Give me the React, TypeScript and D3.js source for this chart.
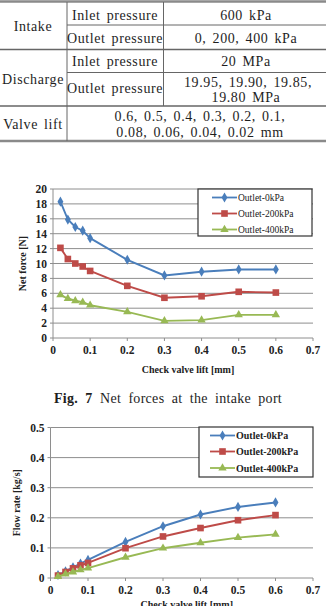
import React from "react";
import * as d3 from "d3";

// Valve-lift positions (mm) shared by both charts
const lift = [0.02, 0.04, 0.06, 0.08, 0.1, 0.2, 0.3, 0.4, 0.5, 0.6];

// Net force at the intake port [N]
const force0 = [18.3, 15.9, 14.9, 14.4, 13.4, 10.5, 8.4, 8.9, 9.2, 9.2];
const force200 = [12.1, 10.6, 10.0, 9.6, 9.0, 7.0, 5.4, 5.6, 6.2, 6.1];
const force400 = [5.8, 5.3, 5.0, 4.8, 4.4, 3.5, 2.3, 2.4, 3.1, 3.1];

// Flow rate [kg/s]
const flow0 = [0.01, 0.022, 0.035, 0.048, 0.06, 0.12, 0.172, 0.211, 0.236, 0.251];
const flow200 = [0.008, 0.02, 0.032, 0.042, 0.05, 0.099, 0.138, 0.166, 0.192, 0.209];
const flow400 = [0.005, 0.013, 0.02, 0.027, 0.033, 0.069, 0.099, 0.117, 0.134, 0.145];

const seriesNames = ["Outlet-0kPa", "Outlet-200kPa", "Outlet-400kPa"];
const seriesColors = ["#4a7ebb", "#be4b48", "#98b954"];
const seriesSymbols = [d3.symbolDiamond, d3.symbolSquare, d3.symbolTriangle];
const symbolSizes = [30, 44, 30];

const xTicks = [0, 0.1, 0.2, 0.3, 0.4, 0.5, 0.6, 0.7];
const forceTicks = [0, 2, 4, 6, 8, 10, 12, 14, 16, 18, 20];
const flowTicks = [0, 0.1, 0.2, 0.3, 0.4, 0.5];

// Table content
const tableCol1 = ["Intake", "Discharge", "Valve lift"];
const tableCol2 = ["Inlet pressure", "Outlet pressure", "Inlet pressure", "Outlet pressure"];
const tableCol3 = ["600 kPa", "0, 200, 400 kPa", "20 MPa", "19.95, 19.90, 19.85,", "19.80 MPa"];
const tableLift = ["0.6, 0.5, 0.4, 0.3, 0.2, 0.1,", "0.08, 0.06, 0.04, 0.02 mm"];

const SERIF = "'Liberation Serif', 'Times New Roman', serif";
const GRID = "#8e8e8e";

type ChartProps = {
  top: number;
  bottom: number;
  left: number;
  right: number;
  yDomain: [number, number];
  yTicks: number[];
  yFormat: (v: number) => string;
  yTitle: string;
  yTitleX: number;
  series: number[][];
  legend: { x: number; y: number; w: number; h: number; rows: number[]; lineX: [number, number] };
  legendBold: boolean;
  legendSize: number;
  xTitleY: number;
};

function Chart(p: ChartProps) {
  const x = d3.scaleLinear().domain([0, 0.7]).range([p.left, p.right]);
  const y = d3.scaleLinear().domain(p.yDomain).range([p.bottom, p.top]);
  const line = d3
    .line<number>()
    .x((_, i) => x(lift[i]))
    .y((v) => y(v));
  return (
    <g>
      {p.yTicks.map((t) => (
        <g key={t}>
          <line x1={p.left} x2={p.right} y1={y(t)} y2={y(t)} stroke={GRID} strokeWidth={1} />
          <line x1={p.left - 3} x2={p.left} y1={y(t)} y2={y(t)} stroke={GRID} strokeWidth={1} />
          <text
            x={p.left - 6}
            y={y(t) + 4}
            textAnchor="end"
            fontFamily={SERIF}
            fontWeight="bold"
            fontSize={11.5}
            fill="#222"
          >
            {p.yFormat(t)}
          </text>
        </g>
      ))}
      <line x1={p.left} x2={p.left} y1={p.top} y2={p.bottom} stroke={GRID} strokeWidth={1} />
      {xTicks.map((t) => (
        <g key={t}>
          <line x1={x(t)} x2={x(t)} y1={p.bottom} y2={p.bottom + 3} stroke={GRID} strokeWidth={1} />
          <text
            x={x(t)}
            y={p.bottom + 16}
            textAnchor="middle"
            fontFamily={SERIF}
            fontWeight="bold"
            fontSize={11.5}
            fill="#222"
          >
            {t === 0 ? "0" : t.toFixed(1)}
          </text>
        </g>
      ))}
      <text
        x={(p.left + p.right) / 2 + 5}
        y={p.xTitleY}
        textAnchor="middle"
        fontFamily={SERIF}
        fontWeight="bold"
        fontSize={10}
        fill="#222"
      >
        Check valve lift [mm]
      </text>
      <text
        transform={`translate(${p.yTitleX},${(p.top + p.bottom) / 2}) rotate(-90)`}
        textAnchor="middle"
        fontFamily={SERIF}
        fontWeight="bold"
        fontSize={10}
        fill="#222"
      >
        {p.yTitle}
      </text>
      {p.series.map((s, k) => (
        <g key={k}>
          <path d={line(s) ?? ""} fill="none" stroke={seriesColors[k]} strokeWidth={1.9} />
          {s.map((v, i) => (
            <path
              key={i}
              transform={`translate(${x(lift[i])},${y(v)})`}
              d={d3.symbol(seriesSymbols[k], symbolSizes[k])() ?? ""}
              fill={seriesColors[k]}
            />
          ))}
        </g>
      ))}
      <rect
        x={p.legend.x}
        y={p.legend.y}
        width={p.legend.w}
        height={p.legend.h}
        fill="#fff"
        stroke="#333"
        strokeWidth={1.2}
      />
      {seriesNames.map((n, k) => {
        const ly = p.legend.rows[k];
        const [lx0, lx1] = p.legend.lineX;
        return (
          <g key={n}>
            <line x1={lx0} x2={lx1} y1={ly} y2={ly} stroke={seriesColors[k]} strokeWidth={1.8} />
            <path
              transform={`translate(${(lx0 + lx1) / 2},${ly})`}
              d={d3.symbol(seriesSymbols[k], symbolSizes[k])() ?? ""}
              fill={seriesColors[k]}
            />
            <text
              x={lx1 + 1}
              y={ly + 3.5}
              fontFamily={SERIF}
              fontWeight={p.legendBold ? "bold" : "normal"}
              fontSize={p.legendSize}
              fill="#222"
            >
              {n}
            </text>
          </g>
        );
      })}
    </g>
  );
}

function Table() {
  const txt = {
    fontFamily: SERIF,
    fontSize: 14,
    fill: "#1e1e1e",
    textAnchor: "middle" as const,
    letterSpacing: 0.6,
    wordSpacing: 2,
  };
  const line = "#666";
  return (
    <g>
      <line x1={0} x2={326} y1={1.5} y2={1.5} stroke="#8a8a8a" strokeWidth={2.5} />
      <line x1={67} x2={326} y1={25} y2={25} stroke={line} strokeWidth={1} />
      <line x1={0} x2={326} y1={49.5} y2={49.5} stroke={line} strokeWidth={1.5} />
      <line x1={67} x2={326} y1={72.5} y2={72.5} stroke={line} strokeWidth={1} />
      <line x1={0} x2={326} y1={106} y2={106} stroke={line} strokeWidth={1.5} />
      <line x1={0} x2={326} y1={141} y2={141} stroke="#8a8a8a" strokeWidth={2.5} />
      <line x1={67} x2={67} y1={2} y2={141} stroke={line} strokeWidth={1} />
      <line x1={163.5} x2={163.5} y1={2} y2={106} stroke={line} strokeWidth={1} />

      <text x={33} y={31} {...txt}>{tableCol1[0]}</text>
      <text x={33} y={84} {...txt}>{tableCol1[1]}</text>
      <text x={33} y={129} {...txt}>{tableCol1[2]}</text>

      <text x={115} y={19.5} {...txt}>{tableCol2[0]}</text>
      <text x={115} y={42.5} {...txt}>{tableCol2[1]}</text>
      <text x={115} y={66} {...txt}>{tableCol2[2]}</text>
      <text x={115} y={93} {...txt}>{tableCol2[3]}</text>

      <text x={246} y={19.5} {...txt}>{tableCol3[0]}</text>
      <text x={246} y={42.5} {...txt}>{tableCol3[1]}</text>
      <text x={246} y={66} {...txt}>{tableCol3[2]}</text>
      <text x={248} y={87} {...txt}>{tableCol3[3]}</text>
      <text x={246} y={102} {...txt}>{tableCol3[4]}</text>

      <text x={200} y={121} {...txt}>{tableLift[0]}</text>
      <text x={200} y={137} {...txt}>{tableLift[1]}</text>
    </g>
  );
}

export default function App() {
  return (
    <svg
      width={326}
      height={606}
      style={{ position: "absolute", left: 0, top: 0, background: "#fff" }}
    >
      <rect width={326} height={606} fill="#fff" />
      <Table />
      <Chart
        top={189}
        bottom={338}
        left={53}
        right={313}
        yDomain={[0, 20]}
        yTicks={forceTicks}
        yFormat={(v) => String(v)}
        yTitle="Net force [N]"
        yTitleX={26}
        series={[force0, force200, force400]}
        legend={{ x: 198, y: 189, w: 114, h: 47, rows: [197.5, 213.5, 229.5], lineX: [212, 237] }}
        legendBold={false}
        legendSize={9.5}
        xTitleY={373}
      />
      <text
        x={168}
        y={403}
        textAnchor="middle"
        fontFamily={SERIF}
        fontSize={14}
        fill="#1e1e1e"
        wordSpacing={3.5}
        letterSpacing={0.3}
      >
        <tspan fontWeight="bold">Fig. 7</tspan> Net forces at the intake port
      </text>
      <Chart
        top={427.5}
        bottom={578}
        left={50.5}
        right={313}
        yDomain={[0, 0.5]}
        yTicks={flowTicks}
        yFormat={(v) => (v === 0 ? "0" : v.toFixed(1))}
        yTitle="Flow rate [kg/s]"
        yTitleX={20}
        series={[flow0, flow200, flow400]}
        legend={{ x: 199, y: 427, w: 114, h: 50, rows: [435.5, 451.5, 468], lineX: [210, 235] }}
        legendBold={true}
        legendSize={10}
        xTitleY={608}
      />
    </svg>
  );
}
